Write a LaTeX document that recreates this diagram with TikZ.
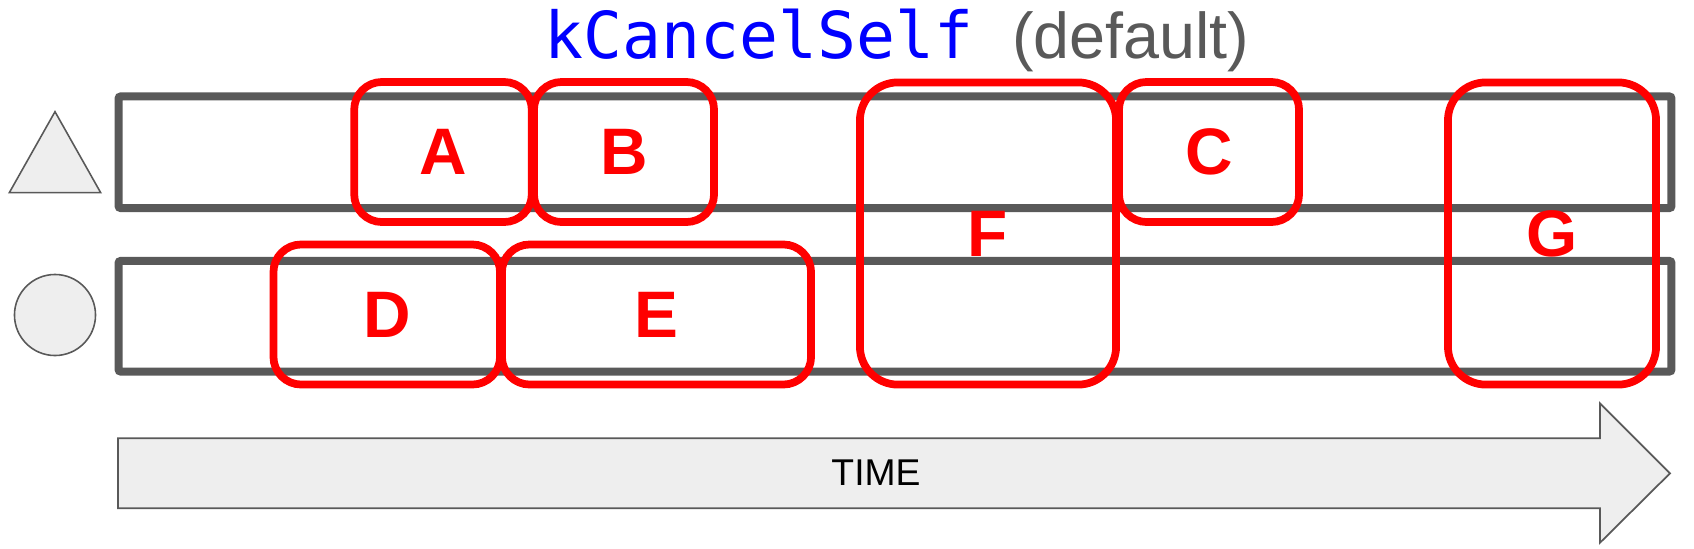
\documentclass[tikz,border=0pt]{standalone}
\usepackage{fontspec}
\setsansfont{Liberation Sans}
\setmonofont{DejaVu Sans Mono}
\definecolor{lanegray}{HTML}{595959}
\definecolor{markfill}{HTML}{EEEEEE}
\definecolor{codeblue}{HTML}{0000FF}
\begin{document}
\begin{tikzpicture}[x=0.01cm,y=-0.01cm,
    lane/.style={draw=lanegray,line width=2.27pt,rounded corners=0.6pt,minimum width=15.52cm,inner sep=0pt},
    job/.style={draw=red,line width=2.2pt,rounded corners=7.9pt,text=red,inner sep=0pt,
        font=\sffamily\bfseries\fontsize{18.7}{20}\selectfont},
    short/.style={job,minimum height=1.4cm},
    tall/.style={job,rounded corners=10.8pt,minimum height=3.02cm},
    marker/.style={draw=lanegray,fill=markfill,line width=0.45pt}]
    \useasboundingbox (0,0) rectangle (1694,548);
    \node[anchor=base,inner sep=0pt,font=\fontsize{18.4}{20}\selectfont] (title) at (897,58)
        {\ttfamily\color{codeblue}kCancelSelf\ \sffamily\color{lanegray}(default)};
    \node[lane,minimum height=1.115cm] (lane1) at (895,152.25) {};
    \node[lane,minimum height=1.105cm] (lane2) at (895,316.25) {};
    \draw[marker] (55,111.7) -- (100.7,192.7) -- (9.3,192.7) -- cycle;
    \node[marker,circle,minimum size=0.81cm,inner sep=0pt] (dot) at (55,315) {};
    \node[short,minimum width=1.775cm] (A) at (443,152) {A};
    \node[short,minimum width=1.8cm] (B) at (624,152) {B};
    \node[short,minimum width=1.8cm] (C) at (1209,152) {C};
    \node[short,minimum width=2.265cm] (D) at (386.75,314.5) {D};
    \node[short,minimum width=3.09cm] (E) at (656.5,314.5) {E};
    \node[tall,minimum width=2.56cm] (F) at (988,233.5) {F};
    \node[tall,minimum width=2.08cm] (G) at (1552,233.5) {G};
    \draw[marker,line width=0.5pt] (118,438.3) -- (1600,438.3) -- (1600,403.3) -- (1670,473.3)
        -- (1600,542.7) -- (1600,508.3) -- (118,508.3) -- cycle;
    \node[font=\sffamily\fontsize{10.6}{12}\selectfont] (time) at (876,473) {TIME};
\end{tikzpicture}
\end{document}
